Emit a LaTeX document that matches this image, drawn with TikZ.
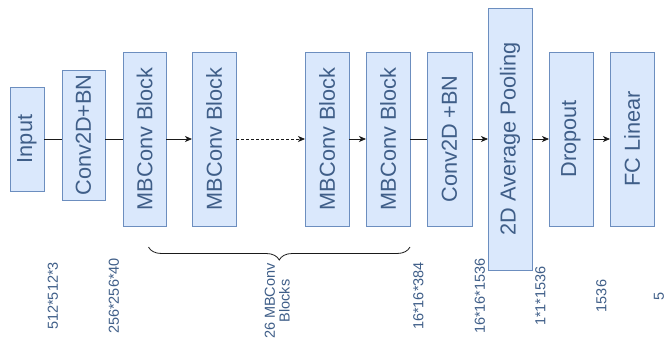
\documentclass[tikz,border=0pt]{standalone}
\usepackage{fontspec}
\setmainfont{Liberation Sans}
\usepackage{graphicx}
\usetikzlibrary{arrows.meta,positioning,calc,decorations.pathreplacing}
\definecolor{boxfill}{HTML}{DAE8FC}
\definecolor{boxline}{HTML}{6C8EBF}
\definecolor{txt}{HTML}{3F5E88}
\definecolor{wire}{HTML}{1A1A1A}

\begin{document}
\begin{tikzpicture}[
  x=1pt, y=1pt,
  node distance=17pt,
  box/.style={draw=boxline, fill=boxfill, line width=0.9pt, text=txt, inner sep=0pt, outer sep=0pt,
    font=\fontsize{21.7pt}{26pt}\selectfont, minimum width=44pt, minimum height=174pt},
  dim/.style={text=txt, inner sep=0pt, align=center, font=\fontsize{14.5pt}{14pt}\selectfont},
  ln/.style={draw=wire, line width=0.8pt},
  ar/.style={ln, -{Stealth[length=7pt, width=6pt, inset=2pt]}},
]
\useasboundingbox (0,0) rectangle (667,-338);

\node[box, minimum width=34pt, minimum height=104pt] (in) at (27,-139) {\rotatebox{90}{Input}};
\node[box, minimum width=43pt, minimum height=130pt, right=18pt of in, yshift=4pt] (c1) {\rotatebox{90}{Conv2D+BN}};
\node[box, minimum width=43pt, right=18pt of c1, yshift=-4pt] (mb1) {\rotatebox{90}{MBConv Block}};
\node[box, right=26pt of mb1] (mb2) {\rotatebox{90}{MBConv Block}};
\node[box, right=69pt of mb2] (mb3) {\rotatebox{90}{MBConv Block}};
\node[box, right=17pt of mb3] (mb4) {\rotatebox{90}{MBConv Block}};
\node[box, minimum width=45pt, right=17pt of mb4] (c2) {\rotatebox{90}{Conv2D +BN}};
\node[box, minimum height=262pt, right=16pt of c2] (pool) {\rotatebox{90}{2D Average Pooling}};
\node[box, right=17pt of pool] (drop) {\rotatebox{90}{Dropout}};
\node[box, right=17pt of drop] (fc) {\rotatebox{90}{FC Linear}};

\draw[ln] (in) -- (c1.west |- in);
\draw[ln] (c1.east |- mb1) -- (mb1);
\draw[ar] (mb1) -- (mb2);
\draw[ar, dashed, dash pattern=on 3pt off 2pt] (mb2) -- (mb3);
\draw[ar] (mb3) -- (mb4);
\draw[ln] (mb4) -- (c2);
\draw[ar] (c2) -- (pool);
\draw[ar] (pool) -- (drop);
\draw[ar] (drop) -- (fc);

\coordinate (brl) at ([xshift=4pt, yshift=-21pt]mb1.south);
\coordinate (brr) at ([yshift=-21pt]mb4.south east);
\draw[ln, decorate, decoration={brace, mirror, amplitude=13pt, aspect=0.5}] (brl) -- (brr);
\node[dim, anchor=north] (nblk) at ($(brl)!.5!(brr)+(0,-16)$)
  {\rotatebox{90}{\begin{tabular}{@{}c@{}}26 MBConv\\Blocks\end{tabular}}};

\node[dim] (s0) at ($(in.east)!.5!(c1.west |- in)+(0,-157)$) {\rotatebox{90}{512*512*3}};
\node[dim] (s1) at ($(c1.east |- in)!.5!(mb1.west)+(0,-157)$) {\rotatebox{90}{256*256*40}};
\node[dim] (s2) at ($(mb4.east)!.5!(c2.west)+(0,-157)$) {\rotatebox{90}{16*16*384}};
\node[dim] (s3) at ($(c2.east)!.5!(pool.west)+(0,-157)$) {\rotatebox{90}{16*16*1536}};
\node[dim] (s4) at ($(pool.east)!.5!(drop.west)+(0,-157)$) {\rotatebox{90}{1*1*1536}};
\node[dim] (s5) at ($(drop.east)!.5!(fc.west)+(0,-157)$) {\rotatebox{90}{1536}};
\node[dim] (s6) at ($(fc.east)+(5,-157)$) {\rotatebox{90}{5}};
\end{tikzpicture}
\end{document}
